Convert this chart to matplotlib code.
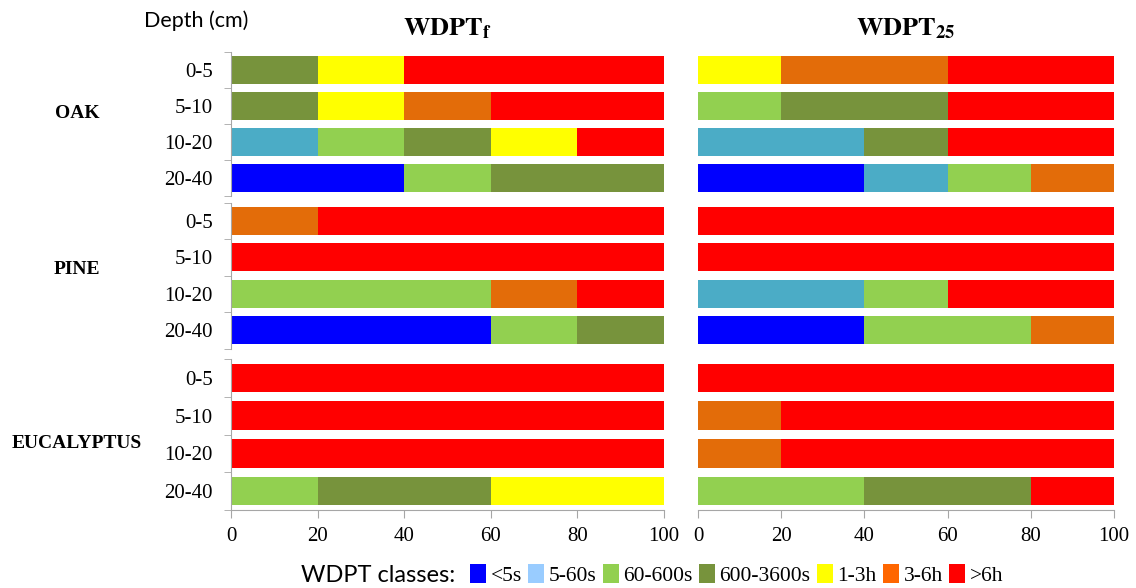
import matplotlib
matplotlib.use("Agg")
import matplotlib.pyplot as plt
from matplotlib.patches import Patch
import numpy as np

plt.rcParams['mathtext.fontset'] = 'stix'

classes = ["<5s", "5-60s", "60-600s", "600-3600s", "1-3h", "3-6h", ">6h"]
bar_colors = ["#0000FF", "#4BACC6", "#92D050", "#77933C", "#FFFF00", "#E36C09", "#FF0000"]
legend_colors = ["#0000FF", "#99CCFF", "#92D050", "#77933C", "#FFFF00", "#FF6600", "#FF0000"]
depths = ["0-5", "5-10", "10-20", "20-40"]
species = ["OAK", "PINE", "EUCALYPTUS"]

# percentages per class [<5s, 5-60s, 60-600s, 600-3600s, 1-3h, 3-6h, >6h]
wdpt_f_oak = [[0, 0, 0, 20, 20, 0, 60],
              [0, 0, 0, 20, 20, 20, 40],
              [0, 20, 20, 20, 20, 0, 20],
              [40, 0, 20, 40, 0, 0, 0]]
wdpt_f_pine = [[0, 0, 0, 0, 0, 20, 80],
               [0, 0, 0, 0, 0, 0, 100],
               [0, 0, 60, 0, 0, 20, 20],
               [60, 0, 20, 20, 0, 0, 0]]
wdpt_f_euc = [[0, 0, 0, 0, 0, 0, 100],
              [0, 0, 0, 0, 0, 0, 100],
              [0, 0, 0, 0, 0, 0, 100],
              [0, 0, 20, 40, 40, 0, 0]]
wdpt25_oak = [[0, 0, 0, 0, 20, 40, 40],
              [0, 0, 20, 40, 0, 0, 40],
              [0, 40, 0, 20, 0, 0, 40],
              [40, 20, 20, 0, 0, 20, 0]]
wdpt25_pine = [[0, 0, 0, 0, 0, 0, 100],
               [0, 0, 0, 0, 0, 0, 100],
               [0, 40, 20, 0, 0, 0, 40],
               [40, 0, 40, 0, 0, 20, 0]]
wdpt25_euc = [[0, 0, 0, 0, 0, 0, 100],
              [0, 0, 0, 0, 0, 20, 80],
              [0, 0, 0, 0, 0, 20, 80],
              [0, 0, 40, 40, 0, 0, 20]]

panels = [[wdpt_f_oak, wdpt_f_pine, wdpt_f_euc],
          [wdpt25_oak, wdpt25_pine, wdpt25_euc]]

W, H = 1136, 588
fig = plt.figure(figsize=(W / 100, H / 100), dpi=100)

def fx(px):
    return px / W

def fy(py):
    return 1 - py / H

col_x = [(231, 664), (698, 1114)]
row_y = [(52, 196), (202.5, 348.5), (359, 510)]
label_y = [113, 270, 443]
serif = "Liberation Serif"
spine_col = "#A6A6A6"

for c, (x0, x1) in enumerate(col_x):
    for r, (y0, y1) in enumerate(row_y):
        ax = fig.add_axes([fx(x0), fy(y1), (x1 - x0) / W, (y1 - y0) / H])
        data = np.array(panels[c][r], dtype=float)
        ypos = np.arange(len(depths))
        left = np.zeros(len(depths))
        for k in range(len(classes)):
            ax.barh(ypos, data[:, k], left=left, height=0.76,
                    color=bar_colors[k], edgecolor='none')
            left += data[:, k]
        ax.set_xlim(0, 100)
        ax.set_ylim(3.5, -0.5)
        for s in ['top', 'right']:
            ax.spines[s].set_visible(False)
        if c == 0:
            ax.spines['left'].set_color(spine_col)
            ax.set_yticks(ypos)
            ax.set_yticklabels(depths, fontfamily=serif, fontsize=15)
            ax.set_yticks(np.arange(-0.5, 4.0, 1.0), minor=True)
            ax.tick_params(axis='y', which='major', length=0, pad=13)
            ax.tick_params(axis='y', which='minor', length=5, color=spine_col)
        else:
            ax.spines['left'].set_visible(False)
            ax.set_yticks([])
        if r == 2:
            ax.spines['bottom'].set_color(spine_col)
            ax.set_xticks([0, 20, 40, 60, 80, 100])
            ax.set_xticklabels(["0", "20", "40", "60", "80", "100"],
                               fontfamily=serif, fontsize=15)
            ax.tick_params(axis='x', length=6, color=spine_col, pad=6)
        else:
            ax.spines['bottom'].set_visible(False)
            ax.set_xticks([])

for i, sp in enumerate(species):
    fig.text(fx(77), fy(label_y[i]), sp, ha='center', va='center',
             fontfamily=serif, fontweight='bold', fontsize=14)

fig.text(fx(196), fy(21), "Depth (cm)", ha='center', va='center',
         fontfamily="Lato", fontsize=15.5)
fig.text(fx(447), fy(28), r"$\mathbf{WDPT}_{\mathbf{f}}$", ha='center', va='center',
         fontsize=19)
fig.text(fx(906), fy(28), r"$\mathbf{WDPT}_{\mathbf{25}}$", ha='center', va='center',
         fontsize=19)

fig.text(fx(378), fy(575), "WDPT classes:", ha='center', va='center',
         fontfamily="Lato", fontsize=17)
handles = [Patch(facecolor=legend_colors[i], edgecolor='none') for i in range(len(classes))]
fig.legend(handles, classes, ncol=7, loc='center left',
           bbox_to_anchor=(fx(470), fy(575)), frameon=False,
           handlelength=0.75, handleheight=0.95, handletextpad=0.2,
           columnspacing=0.3, borderpad=0, borderaxespad=0,
           prop={'family': serif, 'size': 15.5})

fig.savefig("out.png", dpi=100)
